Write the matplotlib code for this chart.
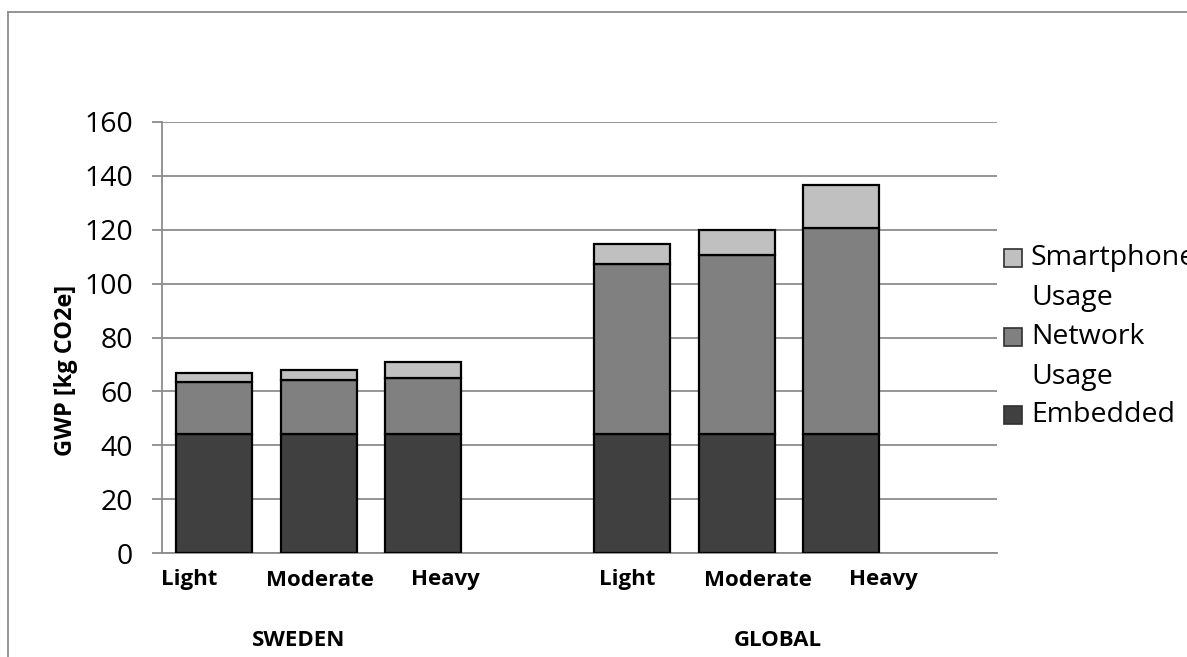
"""
plot.py

Stacked bar chart of smartphone GWP (kg CO2e) for Sweden and Global usage profiles.
"""
import matplotlib
matplotlib.use('Agg')
import matplotlib.pyplot as plt
from matplotlib.patches import Rectangle
from matplotlib.lines import Line2D

# Data
categories = ["Light", "Moderate", "Heavy", "Light", "Moderate", "Heavy"]
regions = ["SWEDEN", "GLOBAL"]
embedded = [44.2, 44.2, 44.2, 44.2, 44.2, 44.2]
network_usage = [19.4, 19.9, 20.9, 63.1, 66.3, 76.4]
smartphone_usage = [3.1, 3.7, 5.9, 7.4, 9.4, 15.9]
series_names = ["Embedded", "Network Usage", "Smartphone Usage"]
y_ticks = [0, 20, 40, 60, 80, 100, 120, 140, 160]

# Styles
colors = ["#404040", "#808080", "#c0c0c0"]
grid_color = "#8c8c8c"
FONT = "Open Sans"
W, H = 1187, 657

plt.rcParams['font.family'] = [FONT, 'DejaVu Sans']

fig = plt.figure(figsize=(W / 100, H / 100), dpi=100)


def fx(px):
    return px / W


def fy(py):
    return 1 - py / H


ax = fig.add_axes([fx(162), fy(553), fx(997) - fx(162), fy(122) - fy(553)])

# bar slots: 0,1,2 for Sweden, 4,5,6 for Global
x_pos = [0, 1, 2, 4, 5, 6]
bar_w = 0.73

bottoms = [0.0] * len(x_pos)
for values, color, name in zip([embedded, network_usage, smartphone_usage], colors, series_names):
    ax.bar(x_pos, values, width=bar_w, bottom=bottoms, color=color,
           edgecolor="black", linewidth=1.6, label=name, zorder=3)
    bottoms = [b + v for b, v in zip(bottoms, values)]

ax.set_xlim(-0.5, 7.49)
ax.set_ylim(0, 160)
ax.set_yticks(y_ticks)
ax.set_yticklabels([str(t) for t in y_ticks], fontsize=20.5)
ax.yaxis.grid(True, color=grid_color, linewidth=1.3, zorder=0)
ax.set_axisbelow(True)
ax.set_xticks([])

for side in ["top", "right"]:
    ax.spines[side].set_visible(False)
for side in ["left", "bottom"]:
    ax.spines[side].set_color(grid_color)
    ax.spines[side].set_linewidth(1.3)
ax.tick_params(axis="y", direction="out", length=7, width=1.3, color=grid_color, pad=14)

# category labels (Excel offsets them slightly from the bar centres)
label_px = [189, 320, 445, 627, 758, 883]
for px, cat in zip(label_px, categories):
    fig.text(fx(px), fy(580), cat, ha="center", va="center", fontsize=16, fontweight="bold")

region_px = [299, 778]
for px, reg in zip(region_px, regions):
    fig.text(fx(px), fy(641), reg, ha="center", va="center", fontsize=16, fontweight="bold")

fig.text(fx(66), fy(370), "GWP [kg CO2e]", rotation=90, ha="center", va="center",
         fontsize=17, fontweight="bold")

# legend drawn by hand so wrapped labels line up like the original
legend_rows = [258, 337, 415]
line_gap = 40
for row_y, name, color in zip(legend_rows, series_names[::-1], colors[::-1]):
    fig.patches.append(Rectangle((fx(1004), fy(row_y + 9)), fx(18), fy(0) - fy(18),
                                 transform=fig.transFigure, facecolor=color,
                                 edgecolor="#303030", linewidth=1.2))
    words = name.split(" ")
    for i, word in enumerate(words):
        fig.text(fx(1031), fy(row_y + i * line_gap), word, ha="left", va="center", fontsize=20.5)

# outer chart-area frame (only left and top edges fall inside the picture)
fig.lines.append(Line2D([fx(8), fx(8)], [fy(12), 0], transform=fig.transFigure,
                        color=grid_color, linewidth=1.3))
fig.lines.append(Line2D([fx(8), 1], [fy(12), fy(12)], transform=fig.transFigure,
                        color=grid_color, linewidth=1.3))

fig.savefig("out.png", dpi=100)
